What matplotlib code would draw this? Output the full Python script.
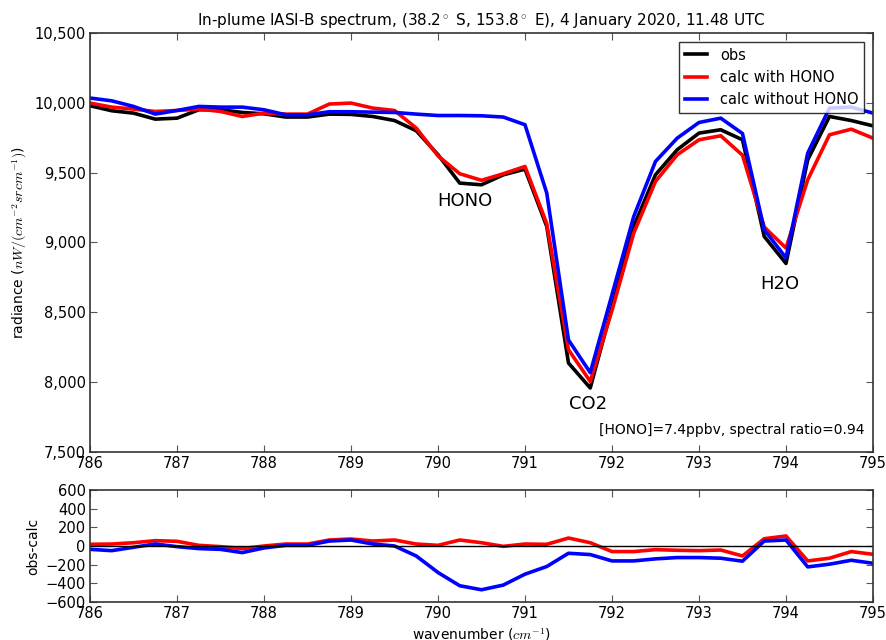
import matplotlib
matplotlib.use('Agg')
import matplotlib.pyplot as plt
from matplotlib.ticker import FuncFormatter, MultipleLocator

# wavenumber grid (cm-1), IASI sampling
wavenumber = [786.0, 786.25, 786.5, 786.75, 787.0, 787.25, 787.5, 787.75, 788.0,
              788.25, 788.5, 788.75, 789.0, 789.25, 789.5, 789.75, 790.0, 790.25,
              790.5, 790.75, 791.0, 791.25, 791.5, 791.75, 792.0, 792.25, 792.5,
              792.75, 793.0, 793.25, 793.5, 793.75, 794.0, 794.25, 794.5, 794.75, 795.0]

obs = [9979, 9943, 9926, 9883, 9890, 9950, 9950, 9931, 9921, 9898, 9898, 9919, 9917,
       9902, 9873, 9800, 9628, 9425, 9413, 9484, 9525, 9115, 8137, 7958, 8536, 9115,
       9485, 9664, 9783, 9807, 9735, 9043, 8850, 9592, 9902, 9873, 9835]

calc_hono = [9998, 9969, 9955, 9938, 9945, 9955, 9938, 9902, 9926, 9919, 9919, 9991, 9998,
             9962, 9945, 9819, 9620, 9492, 9445, 9492, 9544, 9135, 8232, 8005, 8513, 9067,
             9437, 9628, 9735, 9764, 9625, 9110, 8960, 9449, 9771, 9811, 9747]

calc_no_hono = [10034, 10014, 9974, 9919, 9945, 9974, 9969, 9969, 9950, 9914, 9914, 9936, 9936,
                9933, 9931, 9919, 9909, 9909, 9907, 9898, 9843, 9354, 8302, 8068, 8626, 9186,
                9580, 9747, 9859, 9890, 9780, 9091, 8890, 9640, 9962, 9969, 9926]

# residuals (obs - calc) as shown in lower panel
resid_hono = [18, 21, 35, 57, 50, 7, -7, -28, 0, 21, 21, 64, 75, 53, 64, 21, 7, 64, 35, -4,
              21, 18, 85, 35, -60, -60, -39, -46, -50, -43, -107, 78, 107, -160, -131, -60, -89]

resid_no_hono = [-36, -50, -14, 21, -7, -28, -36, -71, -21, 7, 7, 53, 64, 21, 0, -107, -284,
                 -426, -469, -419, -302, -220, -78, -92, -160, -160, -138, -124, -124, -131,
                 -163, 53, 64, -224, -195, -153, -185]

# band labels
bands = ['HONO', 'CO2', 'H2O']
band_pos = [(790.31, 9300), (791.72, 7845), (793.93, 8700)]

plt.rcParams['xtick.direction'] = 'in'
plt.rcParams['ytick.direction'] = 'in'
plt.rcParams['xtick.top'] = True
plt.rcParams['ytick.right'] = True
plt.rcParams['font.size'] = 10
plt.rcParams['mathtext.fontset'] = 'cm'

fig = plt.figure(figsize=(8.86, 6.4), dpi=100)
ax1 = fig.add_axes([0.1016, 0.2938, 0.8837, 0.6547])
ax2 = fig.add_axes([0.1016, 0.0594, 0.8837, 0.175])

lw = 2.6
ax1.plot(wavenumber, obs, color='black', lw=lw, label='obs')
ax1.plot(wavenumber, calc_hono, color='red', lw=lw, label='calc with HONO')
ax1.plot(wavenumber, calc_no_hono, color='blue', lw=lw, label='calc without HONO')

for name, (x, y) in zip(bands, band_pos):
    ax1.text(x, y, name, fontsize=13, ha='center', va='center')

ax1.text(0.989, 0.035, '[HONO]=7.4ppbv, spectral ratio=0.94', transform=ax1.transAxes,
         ha='right', va='bottom', fontsize=10)

ax1.set_xlim(786, 795)
ax1.set_ylim(7500, 10500)
ax1.xaxis.set_major_locator(MultipleLocator(1))
ax1.yaxis.set_major_locator(MultipleLocator(500))
ax1.yaxis.set_major_formatter(FuncFormatter(lambda v, p: f'{v:,.0f}'))
ax1.set_ylabel(r'radiance ($nW/(cm^{-2} srcm^{-1})$)')
ax1.set_title(r'In-plume IASI-B spectrum, (38.2$^\circ$ S, 153.8$^\circ$ E), 4 January 2020, 11.48 UTC',
              fontsize=11, pad=6)
leg = ax1.legend(loc='upper right', fancybox=False, edgecolor='black', fontsize=10.5,
                 handlelength=1.5, handletextpad=0.9, borderaxespad=0.6)
leg.get_frame().set_linewidth(1.0)

ax2.plot(wavenumber, resid_hono, color='red', lw=lw)
ax2.plot(wavenumber, resid_no_hono, color='blue', lw=lw)
ax2.axhline(0, color='black', lw=1)
ax2.set_xlim(786, 795)
ax2.set_ylim(-600, 600)
ax2.xaxis.set_major_locator(MultipleLocator(1))
ax2.yaxis.set_major_locator(MultipleLocator(200))
ax2.set_ylabel('obs-calc')
ax2.set_xlabel(r'wavenumber ($cm^{-1}$)')

for ax in (ax1, ax2):
    for s in ax.spines.values():
        s.set_color('#333333')
        s.set_linewidth(1.2)
    ax.tick_params(length=5, width=0.8, color='#555555', labelsize=10.5, pad=3)

fig.savefig('out.png', dpi=100)
